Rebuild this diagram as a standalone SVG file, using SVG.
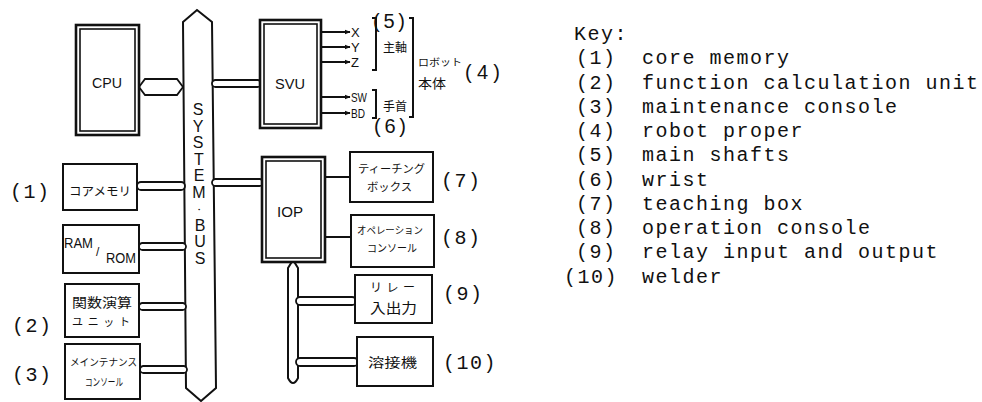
<svg xmlns="http://www.w3.org/2000/svg" width="982" height="402" viewBox="0 0 982 402">
<style>
.box{fill:#fff;stroke:#111;stroke-width:2}
.outer{fill:#fff;stroke:#111;stroke-width:2.6}
.inner{fill:none;stroke:#111;stroke-width:1.6}
.cap{fill:#fff;stroke:#111;stroke-width:1.8}
.ln{stroke:#111;stroke-width:2;fill:none}
.sans{font-family:"Liberation Sans","DejaVu Sans",sans-serif;fill:#111}
.jp{font-family:"Noto Sans CJK JP","Noto Sans CJK SC",sans-serif;fill:#111}
.tw{font-family:"Liberation Mono","DejaVu Sans Mono",monospace;font-size:20px;letter-spacing:1.5px;fill:#111}
</style>
<defs>
<marker id="arr" viewBox="0 0 10 10" refX="9" refY="5" markerWidth="6" markerHeight="6" orient="auto" markerUnits="userSpaceOnUse">
<path d="M0,1 L10,5 L0,9 Z" fill="#111"/>
</marker>
</defs>
<rect width="982" height="402" fill="#fff"/>

<g id="bus">
<polygon points="183,22 197,10 212,22 216,388 201,401 186,388" fill="#fff" stroke="#111" stroke-width="2"/>
<g class="sans" font-size="16" text-anchor="middle">
<text x="198" y="115">S</text>
<text x="198" y="132">Y</text>
<text x="198" y="148">S</text>
<text x="199" y="165">T</text>
<text x="199" y="181">E</text>
<text x="199" y="198">M</text>
<text x="199" y="213" font-size="10">・</text>
<text x="200" y="231">B</text>
<text x="200" y="247">U</text>
<text x="200" y="264">S</text>
</g>
</g>

<g id="connectors">
<polygon class="cap" points="139,87 145,79 177,79 183,87 177,95 145,95"/>
<rect class="cap" x="137" y="182" width="48" height="8" rx="4"/>
<rect class="cap" x="139" y="243" width="47" height="7" rx="3.5"/>
<rect class="cap" x="139" y="303" width="47" height="7" rx="3.5"/>
<rect class="cap" x="140" y="366" width="47" height="7" rx="3.5"/>
<rect class="cap" x="212" y="80" width="49" height="7" rx="3.5"/>
<rect class="cap" x="212" y="179" width="51" height="7" rx="3.5"/>
<line class="ln" x1="325" y1="177" x2="351" y2="177" stroke-width="2.4"/>
<line class="ln" x1="325" y1="237" x2="352" y2="237" stroke-width="2.4"/>
<path d="M288,268 L293,260 L298,268 V378 Q293,388 288,378 Z" fill="#fff" stroke="#111" stroke-width="2"/>
<rect class="cap" x="296" y="297" width="60" height="8" rx="4"/>
<rect class="cap" x="296" y="358" width="62" height="8" rx="4"/>
<g class="ln" marker-end="url(#arr)">
<line x1="322" y1="32" x2="350" y2="32"/>
<line x1="322" y1="47" x2="350" y2="47"/>
<line x1="322" y1="62" x2="350" y2="62"/>
<line x1="322" y1="97" x2="350" y2="97"/>
<line x1="322" y1="113" x2="350" y2="113"/>
</g>
<path class="ln" d="M372,18 H376 V70 H372" stroke-width="1.8"/>
<path class="ln" d="M372,90 H376 V118 H372" stroke-width="1.8"/>
<path class="ln" d="M409,18 H413 V117 H409" stroke-width="1.8"/>
</g>

<g id="cpu">
<rect class="outer" x="76" y="25" width="63" height="110"/>
<rect class="inner" x="80" y="29" width="55" height="102"/>
<text class="sans" x="107" y="88" font-size="15" text-anchor="middle" textLength="30" lengthAdjust="spacingAndGlyphs">CPU</text>
</g>

<g id="core-memory">
<rect class="box" x="63" y="164" width="74" height="46"/>
<text class="jp" x="69" y="196" font-size="12" textLength="62" lengthAdjust="spacingAndGlyphs">コアメモリ</text>
<text class="tw" x="10" y="198">(1)</text>
</g>

<g id="ram-rom">
<rect class="box" x="63" y="225" width="76" height="48"/>
<text class="sans" x="64" y="248" font-size="14" textLength="29" lengthAdjust="spacingAndGlyphs">RAM</text>
<text class="sans" x="96" y="256" font-size="12">/</text>
<text class="sans" x="106" y="263" font-size="14" textLength="30" lengthAdjust="spacingAndGlyphs">ROM</text>
</g>

<g id="function-unit">
<rect class="box" x="65" y="284" width="74" height="53"/>
<text class="jp" x="72" y="307" font-size="13" textLength="60" lengthAdjust="spacingAndGlyphs">関数演算</text>
<text class="jp" x="72" y="326" font-size="11" textLength="58" lengthAdjust="spacing">ユニット</text>
<text class="tw" x="12" y="332">(2)</text>
</g>

<g id="maintenance">
<rect class="box" x="65" y="344" width="75" height="55"/>
<text class="jp" x="70" y="366" font-size="10" textLength="67" lengthAdjust="spacingAndGlyphs">メインテナンス</text>
<text class="jp" x="85" y="386" font-size="10.5" textLength="38" lengthAdjust="spacingAndGlyphs">コンソール</text>
<text class="tw" x="12" y="381">(3)</text>
</g>

<g id="svu">
<rect class="outer" x="260" y="20" width="61" height="108"/>
<rect class="inner" x="264" y="24" width="53" height="100"/>
<text class="sans" x="290" y="89" font-size="15" text-anchor="middle" textLength="30" lengthAdjust="spacingAndGlyphs">SVU</text>
<g class="sans" font-size="13">
<text x="351" y="37">X</text>
<text x="351" y="52">Y</text>
<text x="351" y="67">Z</text>
<text x="351" y="102" textLength="16" lengthAdjust="spacingAndGlyphs">SW</text>
<text x="351" y="118" textLength="14" lengthAdjust="spacingAndGlyphs">BD</text>
</g>
<text class="sans" x="373" y="28" font-size="20" textLength="32" lengthAdjust="spacing">(5)</text>
<text class="sans" x="374" y="133" font-size="20" textLength="32" lengthAdjust="spacing">(6)</text>
<text class="jp" x="383" y="52" font-size="12" textLength="24" lengthAdjust="spacingAndGlyphs">主軸</text>
<text class="jp" x="383" y="111" font-size="12" textLength="24" lengthAdjust="spacingAndGlyphs">手首</text>
<text class="jp" x="418" y="66" font-size="10" textLength="44" lengthAdjust="spacingAndGlyphs">ロボット</text>
<text class="jp" x="418" y="88" font-size="13" textLength="28" lengthAdjust="spacingAndGlyphs">本体</text>
<text class="sans" x="465" y="79" font-size="20" textLength="35" lengthAdjust="spacing">(4)</text>
</g>

<g id="iop">
<rect class="outer" x="262" y="157" width="63" height="105"/>
<rect class="inner" x="266" y="161" width="55" height="97"/>
<text class="sans" x="290" y="217" font-size="14" text-anchor="middle" textLength="26" lengthAdjust="spacingAndGlyphs">IOP</text>
</g>

<g id="teaching-box">
<rect class="box" x="350" y="152" width="83" height="50"/>
<text class="jp" x="358" y="173" font-size="11" textLength="67" lengthAdjust="spacingAndGlyphs">ティーチング</text>
<text class="jp" x="367" y="191" font-size="11" textLength="45" lengthAdjust="spacingAndGlyphs">ボックス</text>
<text class="tw" x="441" y="187">(7)</text>
</g>

<g id="operation-console">
<rect class="box" x="351" y="215" width="83" height="52"/>
<text class="jp" x="357" y="234" font-size="10" textLength="66" lengthAdjust="spacingAndGlyphs">オペレーション</text>
<text class="jp" x="367" y="252" font-size="10.5" textLength="50" lengthAdjust="spacingAndGlyphs">コンソール</text>
<text class="tw" x="441" y="244">(8)</text>
</g>

<g id="relay">
<rect class="box" x="355" y="275" width="77" height="48"/>
<text class="jp" x="370" y="292" font-size="12" textLength="45" lengthAdjust="spacing">リレー</text>
<text class="jp" x="370" y="313" font-size="14" textLength="47" lengthAdjust="spacingAndGlyphs">入出力</text>
<text class="tw" x="443" y="300">(9)</text>
</g>

<g id="welder">
<rect class="box" x="357" y="337" width="76" height="49"/>
<text class="jp" x="368" y="367" font-size="13" textLength="49" lengthAdjust="spacingAndGlyphs">溶接機</text>
<text class="tw" x="443" y="369">(10)</text>
</g>

<g id="key" class="tw">
<text x="574" y="40">Key:</text>
<text x="576" y="64">(1)</text><text x="642" y="64">core memory</text>
<text x="576" y="89">(2)</text><text x="642" y="89">function calculation unit</text>
<text x="576" y="113">(3)</text><text x="642" y="113">maintenance console</text>
<text x="576" y="137">(4)</text><text x="642" y="137">robot proper</text>
<text x="576" y="161">(5)</text><text x="642" y="161">main shafts</text>
<text x="576" y="186">(6)</text><text x="642" y="186">wrist</text>
<text x="576" y="210">(7)</text><text x="642" y="210">teaching box</text>
<text x="576" y="234">(8)</text><text x="642" y="234">operation console</text>
<text x="576" y="258">(9)</text><text x="642" y="258">relay input and output</text>
<text x="564" y="283">(10)</text><text x="642" y="283">welder</text>
</g>
</svg>
